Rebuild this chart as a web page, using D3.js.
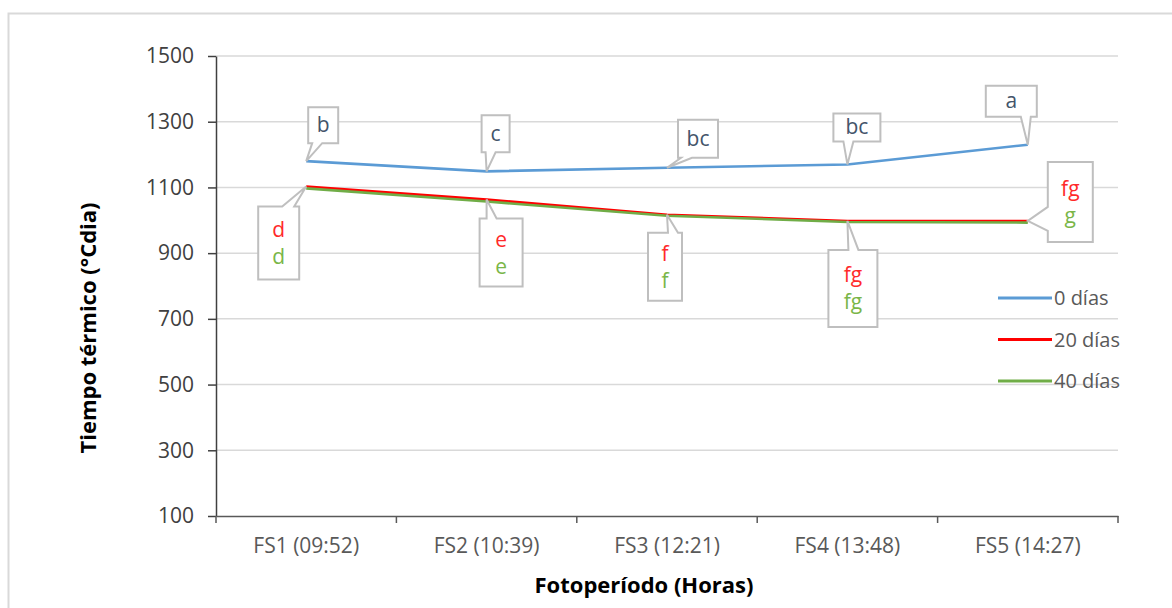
<!DOCTYPE html>
<html>
<head>
<meta charset="utf-8">
<script src="https://cdn.jsdelivr.net/npm/d3@7"></script>
<style>
	body{margin:0;background:#fff;}
	svg{font-family:'Open Sans',sans-serif;}
</style>
</head>
<body>
<svg id="chart" width="1172" height="608"></svg>
<script>
// data
const categories = ['FS1 (09:52)','FS2 (10:39)','FS3 (12:21)','FS4 (13:48)','FS5 (14:27)']
const seriesNames = ['0 días','20 días','40 días']
const dias0 = [1180,1149,1160,1170,1230]
const dias20 = [1103,1063,1017,998,998]
const dias40 = [1097,1057,1014,995,993]
const yTicks = [100,300,500,700,900,1100,1300,1500]
const letras0 = ['b','c','bc','bc','a']
const letras20 = ['d','e','f','fg','fg']
const letras40 = ['d','e','f','fg','g']

const colors = ['#5b9bd5','#ff0000','#70ad47']
const textColors = ['#44546a','#ff2a2a','#7ab648']
const font = "'Open Sans',sans-serif"

let margin = {top:56, right:54, bottom:92, left:216}
let outer_width = 1172
let outer_height = 608
let width = outer_width - margin.left - margin.right
let height = outer_height - margin.top - margin.bottom

const svg = d3.select('#chart')

// frame
svg.append('rect')
	.attr('x',8.5).attr('y',13.5)
	.attr('width',1180).attr('height',620)
	.attr('fill','#fff')
	.attr('stroke','#d9d9d9')
	.attr('stroke-width',2)

const chart = svg.append('g').attr('transform',`translate(${margin.left},${margin.top})`)

const xScale = d3.scaleBand()
	.domain(categories)
	.range([0,width])

const yScale = d3.scaleLinear()
	.domain([100,1500])
	.range([height,0])

// gridlines
chart.append('g')
	.selectAll('line')
	.data(yTicks.slice(1))
	.enter()
	.append('line')
	.attr('x1',0).attr('x2',width)
	.attr('y1',d => yScale(d)).attr('y2',d => yScale(d))
	.attr('stroke','#d9d9d9')
	.attr('stroke-width',1.5)

// axes
const axisY = chart.append('g')
	.call(d3.axisLeft(yScale).tickValues(yTicks).tickFormat(d3.format('d')).tickSize(8).tickPadding(14).tickSizeOuter(0))
axisY.select('.domain').attr('stroke','#404040').attr('stroke-width',1.5)
axisY.selectAll('.tick line').attr('stroke','#404040').attr('stroke-width',1.5)
axisY.selectAll('text').attr('font-size','21px').attr('fill','#404040').attr('font-family',font)

const axisX = chart.append('g')
	.attr('transform',`translate(0,${height})`)
	.call(d3.axisBottom(xScale).tickSize(0).tickPadding(22))
axisX.select('.domain').attr('stroke','#595959').attr('stroke-width',1.5)
axisX.selectAll('text').attr('font-size','21px').attr('fill','#595959').attr('font-family',font)

// x ticks sit on band boundaries
axisX.append('g')
	.selectAll('line')
	.data(categories.concat(['end']))
	.enter()
	.append('line')
	.attr('x1',(d,i) => i * xScale.step()).attr('x2',(d,i) => i * xScale.step())
	.attr('y1',0).attr('y2',7)
	.attr('stroke','#595959')
	.attr('stroke-width',1.5)

// axis titles
svg.append('text')
	.text('Tiempo térmico (°Cdia)')
	.attr('transform','translate(96,328) rotate(-90)')
	.attr('text-anchor','middle')
	.attr('font-size','22px')
	.attr('font-weight','bold')
	.attr('fill','#000')

svg.append('text')
	.text('Fotoperíodo (Horas)')
	.attr('x',644)
	.attr('y',593)
	.attr('text-anchor','middle')
	.attr('font-size','22px')
	.attr('font-weight','bold')
	.attr('fill','#000')

// lines
const series = [dias0, dias20, dias40]
const px = (i) => xScale(categories[i]) + xScale.bandwidth()/2
const line = d3.line()
	.x((d,i) => px(i))
	.y(d => yScale(d))

chart.selectAll('.serie')
	.data([1,2,0])
	.enter()
	.append('path')
	.attr('d',k => line(series[k]))
	.attr('fill','none')
	.attr('stroke',k => colors[k])
	.attr('stroke-width',2.6)

// callout shape: box with a wedge on one side pointing at the tip
const callout = (bx,by,w,h,side,a,b,tx,ty)=>{
	let p = d3.path()
	p.moveTo(bx,by)
	if(side == 'top'){ p.lineTo(bx+a,by); p.lineTo(tx,ty); p.lineTo(bx+b,by) }
	p.lineTo(bx+w,by)
	p.lineTo(bx+w,by+h)
	if(side == 'bottom'){ p.lineTo(bx+b,by+h); p.lineTo(tx,ty); p.lineTo(bx+a,by+h) }
	p.lineTo(bx,by+h)
	if(side == 'left'){ p.lineTo(bx,by+b); p.lineTo(tx,ty); p.lineTo(bx,by+a) }
	p.closePath()
	return p.toString()
}

// box placement relative to its point: dx, dy, w, h, side, wedge start, wedge end
const boxes0 = [
	[2,-54,30,36,'bottom',4,14],
	[-5,-56,28,37,'bottom',4,14],
	[11,-48,40,38,'bottom',3,14],
	[-14,-51,47,28,'bottom',10,20],
	[-42,-59,51,31,'bottom',35,45]
]
const boxes20 = [
	[-48,20,41,73,'top',24,36],
	[-7,19,43,68,'top',7,17],
	[-19,18,34,68,'top',20,30],
	[-19,29,49,77,'top',20,30],
	[20,-59,45,80,'left',45,69]
]

const labels = chart.append('g')

boxes0.forEach((bx,i)=>{
	let tx = px(i), ty = yScale(dias0[i])
	let x0 = tx + bx[0], y0 = ty + bx[1]
	labels.append('path')
		.attr('d',callout(x0,y0,bx[2],bx[3],bx[4],bx[5],bx[6],tx,ty))
		.attr('fill','#fff')
		.attr('stroke','#bfbfbf')
		.attr('stroke-width',2)
	labels.append('text')
		.text(letras0[i])
		.attr('x',x0 + bx[2]/2)
		.attr('y',y0 + bx[3]/2 + 7)
		.attr('text-anchor','middle')
		.attr('font-size','21px')
		.attr('fill',textColors[0])
})

boxes20.forEach((bx,i)=>{
	let tx = px(i), ty = yScale(dias20[i])
	let x0 = tx + bx[0], y0 = ty + bx[1]
	labels.append('path')
		.attr('d',callout(x0,y0,bx[2],bx[3],bx[4],bx[5],bx[6],tx,ty))
		.attr('fill','#fff')
		.attr('stroke','#bfbfbf')
		.attr('stroke-width',2)
	labels.append('text')
		.text(letras20[i])
		.attr('x',x0 + bx[2]/2)
		.attr('y',y0 + bx[3]/2 - 6)
		.attr('text-anchor','middle')
		.attr('font-size','21px')
		.attr('fill',textColors[1])
	labels.append('text')
		.text(letras40[i])
		.attr('x',x0 + bx[2]/2)
		.attr('y',y0 + bx[3]/2 + 21)
		.attr('text-anchor','middle')
		.attr('font-size','21px')
		.attr('fill',textColors[2])
})

// legend
const legend = svg.append('g')
	.selectAll('g')
	.data(seriesNames)
	.enter()
	.append('g')
	.attr('transform',(d,i) => `translate(998,${298 + i*41.5})`)

legend.append('line')
	.attr('x1',0).attr('x2',54)
	.attr('stroke',(d,i) => colors[i])
	.attr('stroke-width',3)

legend.append('text')
	.text(d => d)
	.attr('x',56)
	.attr('y',7)
	.attr('font-size','20px')
	.attr('fill','#595959')
</script>
</body>
</html>
